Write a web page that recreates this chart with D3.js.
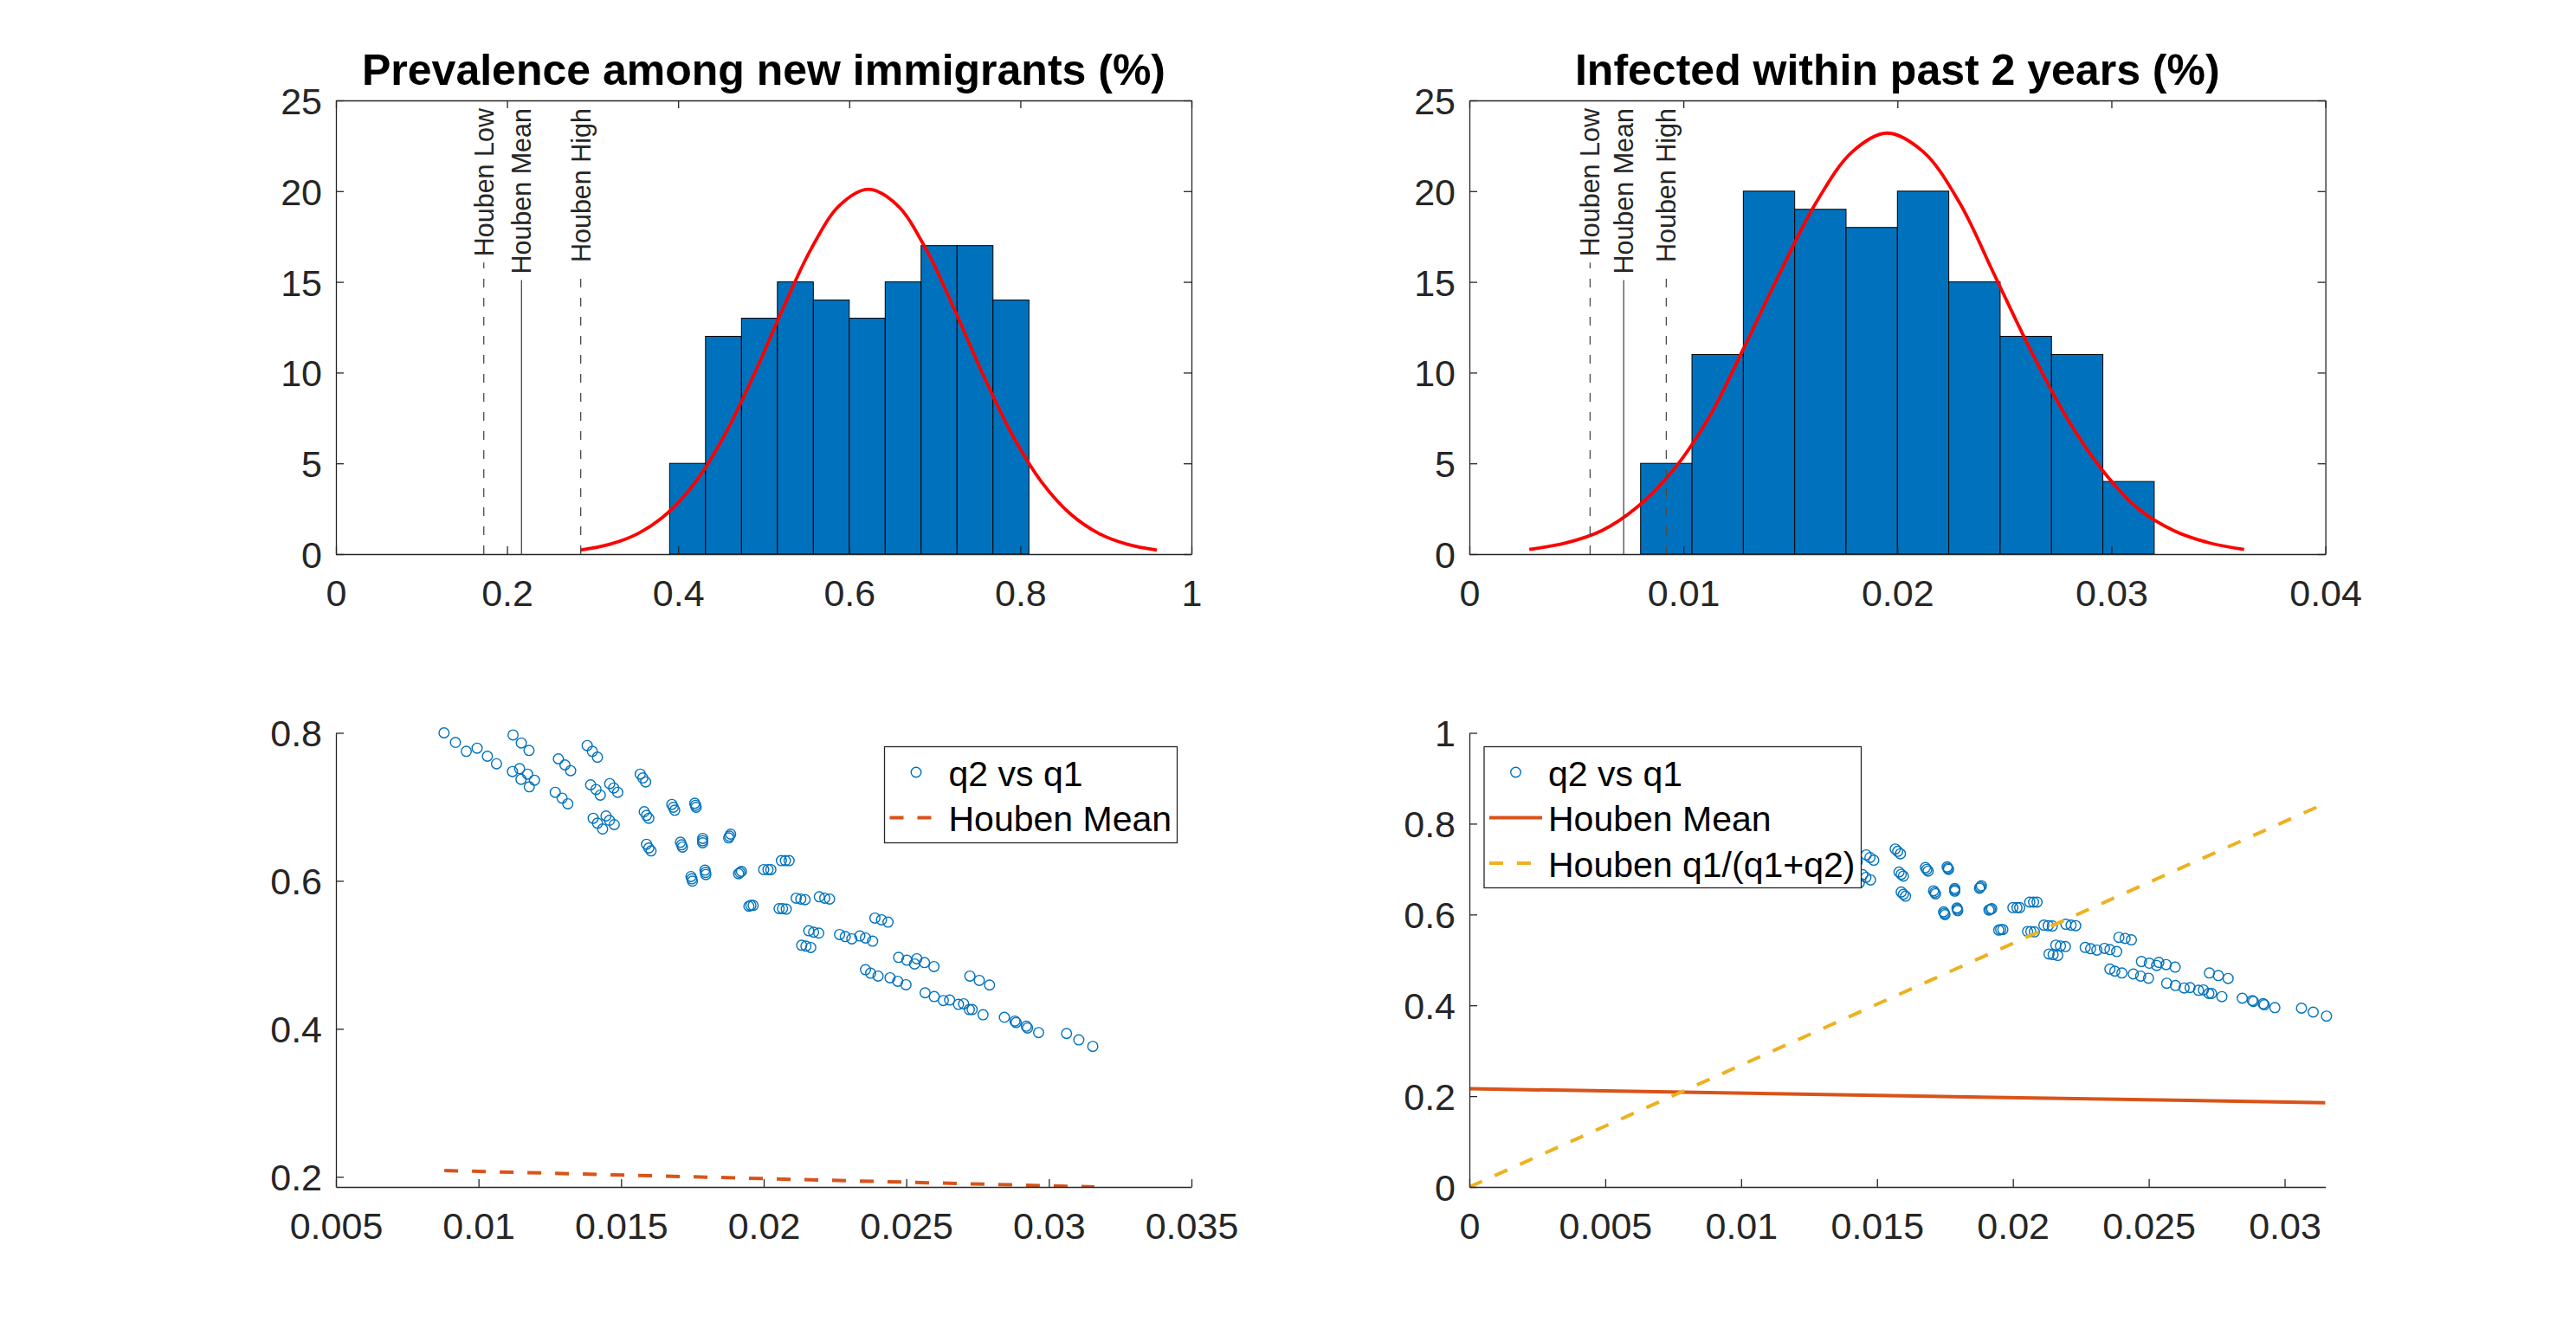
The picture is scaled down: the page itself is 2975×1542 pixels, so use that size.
<!DOCTYPE html>
<html>
<head>
<meta charset="utf-8">
<script src="https://cdn.jsdelivr.net/npm/d3@7"></script>
<style>
  body { margin: 0; background: #fff; }
  text { font-family: "Liberation Sans", Arial, Helvetica, sans-serif; }
</style>
</head>
<body>
<svg id="fig"></svg>
<script>
// ---- data ----
// histograms
const prevEdges = [0.390, 0.432, 0.474, 0.516, 0.558, 0.600, 0.642, 0.684, 0.726, 0.768, 0.810];
const prevCounts = [5, 12, 13, 15, 14, 13, 15, 17, 17, 14];
const infEdges = [0.0080, 0.0104, 0.0128, 0.0152, 0.0176, 0.0200, 0.0224, 0.0248, 0.0272, 0.0296, 0.0320];
const infCounts = [5, 11, 20, 19, 18, 20, 15, 12, 11, 4];

// fitted curves (red)
const prevFitX = [0.2855, 0.3192, 0.3529, 0.3866, 0.4203, 0.4540, 0.4877, 0.5214, 0.5551, 0.5888, 0.6225,
                  0.6562, 0.6899, 0.7236, 0.7573, 0.7910, 0.8247, 0.8584, 0.8921, 0.9258, 0.9595];
const prevFitY = [0.22, 0.53, 1.13, 2.22, 3.98, 6.53, 9.79, 13.41, 16.79, 19.22, 20.10,
                  19.22, 16.79, 13.41, 9.79, 6.53, 3.98, 2.22, 1.13, 0.53, 0.22];
const infFitX = [0.0028, 0.0045, 0.0062, 0.0078, 0.0095, 0.0112, 0.0128, 0.0145, 0.0162, 0.0179, 0.0195,
                 0.0212, 0.0229, 0.0245, 0.0262, 0.0279, 0.0296, 0.0312, 0.0329, 0.0346, 0.0362];
const infFitY = [0.26, 0.61, 1.30, 2.55, 4.59, 7.54, 11.30, 15.47, 19.37, 22.18, 23.20,
                 22.18, 19.37, 15.47, 11.30, 7.54, 4.59, 2.55, 1.30, 0.61, 0.26];

// reference lines
const houbenLabels = ["Houben Low", "Houben Mean", "Houben High"];
const houbenPrevX = [0.1728, 0.2169, 0.2861];
const houbenInfX = [0.00564, 0.00721, 0.00920];

// scatter q2 vs q1
const q1 = [0.00879, 0.00919, 0.00957, 0.00995, 0.01031, 0.01063, 0.01121, 0.01150, 0.01177, 0.01119,
  0.01144, 0.01149, 0.01172, 0.01196, 0.01178, 0.01280, 0.01303, 0.01323, 0.01269, 0.01293,
  0.01313, 0.01381, 0.01399, 0.01417, 0.01393, 0.01412, 0.01427, 0.01460, 0.01474, 0.01488,
  0.01402, 0.01417, 0.01435, 0.01447, 0.01459, 0.01476, 0.01567, 0.01576, 0.01586, 0.01581,
  0.01589, 0.01597, 0.01589, 0.01597, 0.01605, 0.01678, 0.01683, 0.01688, 0.01708, 0.01712,
  0.01715, 0.01758, 0.01761, 0.01763, 0.01786, 0.01786, 0.01786, 0.01877, 0.01880, 0.01884,
  0.01745, 0.01748, 0.01750, 0.01794, 0.01796, 0.01797, 0.01912, 0.01917, 0.01922, 0.02000,
  0.02015, 0.02025, 0.02062, 0.02076, 0.02089, 0.01948, 0.01955, 0.01963, 0.02054, 0.02066,
  0.02079, 0.02114, 0.02130, 0.02145, 0.02195, 0.02214, 0.02231, 0.02158, 0.02175, 0.02193,
  0.02133, 0.02148, 0.02165, 0.02266, 0.02286, 0.02309, 0.02337, 0.02357, 0.02382, 0.02390,
  0.02413, 0.02436, 0.02473, 0.02502, 0.02537, 0.02529, 0.02564, 0.02597, 0.02357, 0.02375,
  0.02401, 0.02443, 0.02470, 0.02499, 0.02566, 0.02598, 0.02630, 0.02652, 0.02683, 0.02701,
  0.02721, 0.02731, 0.02769, 0.02723, 0.02756, 0.02792, 0.02844, 0.02881, 0.02885, 0.02921,
  0.02925, 0.02964, 0.03062, 0.03105, 0.03154];
const q2 = [0.8000, 0.7871, 0.7750, 0.7793, 0.7684, 0.7582, 0.7972, 0.7863, 0.7762, 0.7477,
  0.7516, 0.7372, 0.7442, 0.7360, 0.7271, 0.7649, 0.7567, 0.7489, 0.7196, 0.7118,
  0.7041, 0.7828, 0.7750, 0.7672, 0.7298, 0.7235, 0.7158, 0.7313, 0.7255, 0.7196,
  0.6846, 0.6779, 0.6701, 0.6877, 0.6818, 0.6760, 0.7442, 0.7391, 0.7337, 0.6935,
  0.6885, 0.6846, 0.6495, 0.6444, 0.6405, 0.7033, 0.6994, 0.6955, 0.6522, 0.6487,
  0.6456, 0.7048, 0.7021, 0.6994, 0.6573, 0.6542, 0.6514, 0.6580, 0.6604, 0.6631,
  0.6058, 0.6027, 0.5996, 0.6144, 0.6113, 0.6085, 0.6097, 0.6113, 0.6128, 0.6152,
  0.6152, 0.6152, 0.6273, 0.6273, 0.6273, 0.5657, 0.5668, 0.5668, 0.5625, 0.5625,
  0.5618, 0.5766, 0.5754, 0.5746, 0.5785, 0.5766, 0.5754, 0.5325, 0.5306, 0.5294,
  0.5130, 0.5118, 0.5099, 0.5275, 0.5247, 0.5216, 0.5255, 0.5228, 0.5185, 0.5497,
  0.5473, 0.5442, 0.4966, 0.4928, 0.4947, 0.4877, 0.4896, 0.4842, 0.4799, 0.4752,
  0.4713, 0.4690, 0.4643, 0.4596, 0.4487, 0.4436, 0.4382, 0.4390, 0.4331, 0.4339,
  0.4261, 0.4261, 0.4191, 0.4713, 0.4655, 0.4592, 0.4156, 0.4105, 0.4085, 0.4035,
  0.4011, 0.3949, 0.3937, 0.3851, 0.3762];

// Houben lines in the lower panels
const meanLeftX = [0.0088, 0.0316], meanLeftY = [0.2085, 0.1863];
const meanRightX = [0, 0.0315], meanRightY = [0.2163, 0.1856];
const ratioX = [0, 0.0315], ratioY = [0, 0.845];

// axis limits and ticks
const prevTicks = [0, 0.2, 0.4, 0.6, 0.8, 1], prevTickLabels = ["0", "0.2", "0.4", "0.6", "0.8", "1"];
const infTicks = [0, 0.01, 0.02, 0.03, 0.04], infTickLabels = ["0", "0.01", "0.02", "0.03", "0.04"];
const countTicks = [0, 5, 10, 15, 20, 25], countTickLabels = ["0", "5", "10", "15", "20", "25"];
const blXTicks = [0.005, 0.01, 0.015, 0.02, 0.025, 0.03, 0.035];
const blXLabels = ["0.005", "0.01", "0.015", "0.02", "0.025", "0.03", "0.035"];
const blYTicks = [0.2, 0.4, 0.6, 0.8], blYLabels = ["0.2", "0.4", "0.6", "0.8"];
const brXTicks = [0, 0.005, 0.01, 0.015, 0.02, 0.025, 0.03];
const brXLabels = ["0", "0.005", "0.01", "0.015", "0.02", "0.025", "0.03"];
const brYTicks = [0, 0.2, 0.4, 0.6, 0.8, 1], brYLabels = ["0", "0.2", "0.4", "0.6", "0.8", "1"];
const blXLim = [0.005, 0.035], blYLim = [0.1863, 0.8];
const brXLim = [0, 0.0315], brYLim = [0, 1];

// ---- figure ----
const W = 2975, H = 1542;
const BLUE = "#0072BD", ORANGE = "#D95319", YELLOW = "#EDB120", AX = "#262626";
const TICK_FONT = 43, LEG_FONT = 41;

const svg = d3.select("#fig").attr("width", W).attr("height", H);
svg.append("rect").attr("width", W).attr("height", H).attr("fill", "#fff");

const panels = {
  tl: { x: 388, y: 116, w: 988, h: 524 },
  tr: { x: 1697, y: 116, w: 988.6, h: 524 },
  bl: { x: 388, y: 846.5, w: 988, h: 524.5 },
  br: { x: 1697, y: 846.5, w: 988.6, h: 524.5 }
};

let clipN = 0;
function makePanel(p, xDom, yDom) {
  const g = svg.append("g").attr("transform", `translate(${p.x},${p.y})`);
  const x = d3.scaleLinear().domain(xDom).range([0, p.w]);
  const y = d3.scaleLinear().domain(yDom).range([p.h, 0]);
  const id = "clip" + (clipN++);
  g.append("clipPath").attr("id", id).append("rect").attr("width", p.w).attr("height", p.h);
  const plot = g.append("g").attr("clip-path", `url(#${id})`);
  // markers are not clipped (as in the original)
  const marks = g.append("g");
  return { g, plot, marks, x, y, p };
}

function styleAxis(sel) {
  sel.select(".domain").attr("stroke", AX).attr("stroke-width", 1.3);
  sel.selectAll(".tick line").attr("stroke", AX).attr("stroke-width", 1.3);
  sel.selectAll(".tick text").attr("fill", AX).attr("font-size", TICK_FONT);
}

function drawAxes(P, xt, xl, yt, yl, box) {
  const { g, x, y, p } = P;
  const ax = g.append("g").attr("transform", `translate(0,${p.h})`)
    .call(d3.axisBottom(x).tickValues(xt).tickFormat((d, i) => xl[i])
      .tickSizeInner(-9).tickSizeOuter(0).tickPadding(29));
  styleAxis(ax);
  const ay = g.append("g")
    .call(d3.axisLeft(y).tickValues(yt).tickFormat((d, i) => yl[i])
      .tickSizeInner(-9).tickSizeOuter(0).tickPadding(16));
  styleAxis(ay);
  ay.selectAll(".tick text").attr("dy", "0.36em");
  if (box) {
    const at = g.append("g").call(d3.axisTop(x).tickValues(xt).tickFormat("").tickSizeInner(-9).tickSizeOuter(0));
    styleAxis(at);
    const ar = g.append("g").attr("transform", `translate(${p.w},0)`)
      .call(d3.axisRight(y).tickValues(yt).tickFormat("").tickSizeInner(-9).tickSizeOuter(0));
    styleAxis(ar);
  }
}

function title(P, txt) {
  P.g.append("text").attr("x", P.p.w / 2).attr("y", 98 - P.p.y)
    .attr("text-anchor", "middle").attr("font-size", 50).attr("font-weight", "bold")
    .attr("fill", "#000").text(txt);
}

function histPanel(P, edges, counts, fitX, fitY, hx) {
  const { plot, g, x, y, p } = P;
  const bins = counts.map((c, i) => ({ x0: edges[i], x1: edges[i + 1], c }));
  plot.selectAll("rect.bar").data(bins).join("rect").attr("class", "bar")
    .attr("x", d => x(d.x0)).attr("width", d => x(d.x1) - x(d.x0))
    .attr("y", d => y(d.c)).attr("height", d => y(0) - y(d.c))
    .attr("fill", BLUE).attr("stroke", "#000").attr("stroke-width", 1);
  const fit = fitX.map((v, i) => [v, fitY[i]]);
  plot.append("path").datum(fit)
    .attr("d", d3.line().x(d => x(d[0])).y(d => y(d[1])).curve(d3.curveCatmullRom))
    .attr("fill", "none").attr("stroke", "#FF0000").attr("stroke-width", 3.8);
  // labelled reference lines
  hx.forEach((v, i) => {
    const t = g.append("text")
      .attr("transform", `translate(${x(v)},${9}) rotate(-90)`)
      .attr("text-anchor", "end").attr("dy", "0.36em")
      .attr("font-size", 30.5).attr("fill", AX).text(houbenLabels[i]);
    const len = t.node().getComputedTextLength();
    g.insert("line", "text")
      .attr("x1", x(v)).attr("x2", x(v)).attr("y1", p.h).attr("y2", 9 + len + 7)
      .attr("stroke", "#4a4a4a").attr("stroke-width", 1.3)
      .attr("stroke-dasharray", i === 1 ? null : "10 12");
  });
}

// top left
const TL = makePanel(panels.tl, [0, 1], [0, 25]);
histPanel(TL, prevEdges, prevCounts, prevFitX, prevFitY, houbenPrevX);
drawAxes(TL, prevTicks, prevTickLabels, countTicks, countTickLabels, true);
title(TL, "Prevalence among new immigrants (%)");

// top right
const TR = makePanel(panels.tr, [0, 0.04], [0, 25]);
histPanel(TR, infEdges, infCounts, infFitX, infFitY, houbenInfX);
drawAxes(TR, infTicks, infTickLabels, countTicks, countTickLabels, true);
title(TR, "Infected within past 2 years (%)");

const pts = q1.map((v, i) => [v, q2[i]]);
const lineGen = (P) => d3.line().x(d => P.x(d[0])).y(d => P.y(d[1]));

function scatter(P) {
  P.marks.selectAll("circle.pt").data(pts).join("circle").attr("class", "pt")
    .attr("cx", d => P.x(d[0])).attr("cy", d => P.y(d[1])).attr("r", 5.8)
    .attr("fill", "none").attr("stroke", BLUE).attr("stroke-width", 1.4);
}

// bottom left
const BL = makePanel(panels.bl, blXLim, blYLim);
scatter(BL);
BL.plot.append("path").datum(meanLeftX.map((v, i) => [v, meanLeftY[i]]))
  .attr("d", lineGen(BL)).attr("fill", "none").attr("stroke", ORANGE)
  .attr("stroke-width", 4).attr("stroke-dasharray", "16 16");
drawAxes(BL, blXTicks, blXLabels, blYTicks, blYLabels, false);

// bottom right
const BR = makePanel(panels.br, brXLim, brYLim);
scatter(BR);
BR.plot.append("path").datum(meanRightX.map((v, i) => [v, meanRightY[i]]))
  .attr("d", lineGen(BR)).attr("fill", "none").attr("stroke", ORANGE).attr("stroke-width", 4);
BR.plot.append("path").datum(ratioX.map((v, i) => [v, ratioY[i]]))
  .attr("d", lineGen(BR)).attr("fill", "none").attr("stroke", YELLOW)
  .attr("stroke-width", 4).attr("stroke-dasharray", "16 16");
BR.marks.raise();
BR.plot.raise();
drawAxes(BR, brXTicks, brXLabels, brYTicks, brYLabels, false);

// legends (figure coordinates)
function legend(box, items) {
  const g = svg.append("g");
  g.append("rect").attr("x", box.x).attr("y", box.y).attr("width", box.w).attr("height", box.h)
    .attr("fill", "#fff").attr("stroke", AX).attr("stroke-width", 1.3);
  items.forEach((it, i) => {
    const cy = box.y + 29.5 + i * 52.5;
    const sx0 = box.x + 6, sx1 = box.x + 67;
    if (it.type === "marker") {
      g.append("circle").attr("cx", (sx0 + sx1) / 2).attr("cy", cy).attr("r", 5.8)
        .attr("fill", "none").attr("stroke", BLUE).attr("stroke-width", 1.4);
    } else {
      g.append("line").attr("x1", sx0).attr("x2", sx1).attr("y1", cy).attr("y2", cy)
        .attr("stroke", it.color).attr("stroke-width", 4)
        .attr("stroke-dasharray", it.dash ? "16 16" : null);
    }
    g.append("text").attr("x", box.x + 74).attr("y", cy + 15.5)
      .attr("font-size", LEG_FONT).attr("fill", "#000").text(it.label);
  });
}

legend({ x: 1021.5, y: 862.5, w: 338, h: 111 }, [
  { type: "marker", label: "q2 vs q1" },
  { type: "line", color: ORANGE, dash: true, label: "Houben Mean" }
]);
legend({ x: 1714, y: 862.5, w: 435.5, h: 163 }, [
  { type: "marker", label: "q2 vs q1" },
  { type: "line", color: ORANGE, dash: false, label: "Houben Mean" },
  { type: "line", color: YELLOW, dash: true, label: "Houben q1/(q1+q2)" }
]);
</script>
</body>
</html>
